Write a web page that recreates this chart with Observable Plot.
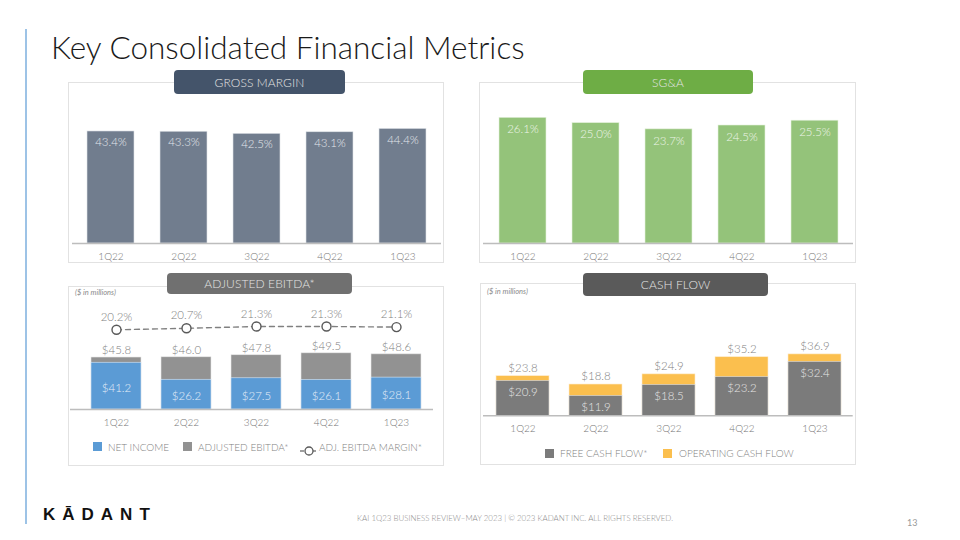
<!DOCTYPE html>
<html><head><meta charset="utf-8">
<script src="https://cdn.jsdelivr.net/npm/d3@7"></script>
<script src="https://cdn.jsdelivr.net/npm/@observablehq/plot@0.6"></script>
<style>
body{margin:0;background:#fff;}
#slide{position:relative;width:960px;height:540px;overflow:hidden;font-family:Lato,"Open Sans",sans-serif;background:#fff;}
.box{position:absolute;border:1px solid #e2e2e2;box-sizing:border-box;}
.pill{position:absolute;border-radius:4px;color:#e4e4e4;font-size:12px;font-weight:300;display:flex;align-items:center;justify-content:center;box-sizing:border-box;letter-spacing:0.1px;}
.note{position:absolute;font-size:7.5px;font-style:italic;color:#8a8a8a;}
.leg{position:absolute;font-size:10px;font-weight:300;color:#7f7f7f;line-height:12px;white-space:nowrap;}
.sw{position:absolute;width:9px;height:9px;}
</style></head><body><div id="slide"></div>
<script>
// ---- data ----
const quarters = ["1Q22","2Q22","3Q22","4Q22","1Q23"];
const grossMargin = [43.4,43.3,42.5,43.1,44.4];
const sga = [26.1,25.0,23.7,24.5,25.5];
const netIncome = [41.2,26.2,27.5,26.1,28.1];
const adjEbitda = [45.8,46.0,47.8,49.5,48.6];
const ebitdaMargin = [20.2,20.7,21.3,21.3,21.1];
const freeCashFlow = [20.9,11.9,18.5,23.2,32.4];
const operatingCashFlow = [23.8,18.8,24.9,35.2,36.9];
const ebitdaSeries = ["NET INCOME","ADJUSTED EBITDA*","ADJ. EBITDA MARGIN*"];
const cashSeries = ["FREE CASH FLOW*","OPERATING CASH FLOW"];

const slide = document.getElementById("slide");
function el(tag, cls, css, text){
  const e = document.createElement(tag);
  if (cls) e.className = cls;
  Object.assign(e.style, css||{});
  if (text!=null) e.textContent = text;
  slide.appendChild(e);
  return e;
}
function place(node, left, top){
  node.style.position="absolute"; node.style.left=left+"px"; node.style.top=top+"px";
  node.style.overflow="visible";
  slide.appendChild(node); return node;
}
const baseStyle = {fontFamily:"Lato, 'Open Sans', sans-serif", fontSize:"10px", fontWeight:300, color:"#767676", background:"transparent", overflow:"visible"};

// ---- frame ----
el("div",null,{position:"absolute",left:"25px",top:"29px",width:"1.5px",height:"495px",background:"#9dc3e6"});
el("div",null,{position:"absolute",left:"51px",top:"27px",fontSize:"31.5px",fontWeight:"300",color:"#1a1a1a",whiteSpace:"nowrap",lineHeight:"40px"},"Key Consolidated Financial Metrics");

// panel boxes
el("div","box",{left:"68px",top:"82px",width:"376px",height:"181px"});
el("div","box",{left:"479px",top:"82px",width:"377px",height:"181px"});
el("div","box",{left:"68px",top:"286px",width:"376px",height:"180px"});
el("div","box",{left:"480px",top:"283px",width:"376px",height:"182px"});

// pills
el("div","pill",{left:"174px",top:"70px",width:"171px",height:"24px",background:"#44546a"},"GROSS MARGIN");
el("div","pill",{left:"583px",top:"70px",width:"170px",height:"24px",background:"#6ead45"},"SG&A");
el("div","pill",{left:"167px",top:"273px",width:"185px",height:"21px",background:"#707070"},"ADJUSTED EBITDA*");
el("div","pill",{left:"583px",top:"273px",width:"185px",height:"23px",background:"#5a5a5a"},"CASH FLOW");

el("div","note",{left:"75px",top:"288px"},"($ in millions)");
el("div","note",{left:"487px",top:"287px"},"($ in millions)");

// ---- panel 1: gross margin ----
const gm = quarters.map((q,i)=>({q, v:grossMargin[i]}));
place(Plot.plot({
  width:376, height:168, marginLeft:4, marginRight:3, marginTop:0, marginBottom:20,
  style:baseStyle,
  x:{domain:quarters, range:[71.7-68, 440.7-68], paddingInner:0.363, paddingOuter:0.1815, label:null},
  y:{domain:[0,50], range:[148, 148-50*2.581], axis:null},
  marks:[
    Plot.barY(gm,{x:"q", y:"v", fill:"#717d8e", stroke:"#dfe3e8", strokeWidth:0.6}),
    Plot.ruleY([0],{stroke:"#bdbdbd", strokeWidth:1.5}),
    Plot.text(gm,{x:"q", y:"v", text:d=>d.v.toFixed(1)+"%", dy:11, fill:"#e3e7ec", fontSize:11.5}),
    Plot.axisX({tickSize:0, tickPadding:9, fontSize:10, fill:"#767676", label:null})
  ]
}), 68, 95);

// ---- panel 2: SG&A ----
const sg = quarters.map((q,i)=>({q, v:sga[i]}));
place(Plot.plot({
  width:377, height:168, marginLeft:4, marginRight:3, marginTop:0, marginBottom:20,
  style:baseStyle,
  x:{domain:quarters, range:[483.6-479, 852.7-479], paddingInner:0.363, paddingOuter:0.1815, label:null},
  y:{domain:[0,30], range:[148, 148-30*4.816], axis:null},
  marks:[
    Plot.barY(sg,{x:"q", y:"v", fill:"#94c37a", stroke:"#e4f0dc", strokeWidth:0.6}),
    Plot.ruleY([0],{stroke:"#bdbdbd", strokeWidth:1.5}),
    Plot.text(sg,{x:"q", y:"v", text:d=>d.v.toFixed(1)+"%", dy:11.5, fill:"#eef5e9", fontSize:11.5}),
    Plot.axisX({tickSize:0, tickPadding:9, fontSize:10, fill:"#767676", label:null})
  ]
}), 479, 95);

// ---- panel 3: adjusted EBITDA ----
const eb = quarters.map((q,i)=>({q, ni:netIncome[i], e:adjEbitda[i], m:ebitdaMargin[i]}));
const ebX = {domain:quarters, range:[79.35-68, 433.2-68], paddingInner:0.279, paddingOuter:0.1395, label:null};
place(Plot.plot({
  width:376, height:136, marginLeft:2, marginRight:11, marginTop:0, marginBottom:27,
  style:baseStyle,
  x:ebX,
  y:{domain:[0,50], range:[109, 109-50*1.135], axis:null},
  marks:[
    Plot.barY(eb,{x:"q", y:"e", fill:"#929292", stroke:"#e6e6e6", strokeWidth:0.6}),
    Plot.barY(eb,{x:"q", y:"ni", fill:"#5b9bd5", stroke:"#dbe8f5", strokeWidth:0.6}),
    Plot.ruleY([0],{stroke:"#bdbdbd", strokeWidth:1.5}),
    Plot.text(eb,{x:"q", y:"e", text:d=>"$"+d.e.toFixed(1), dy:-7, fill:"#7f7f7f", fontSize:11.5}),
    Plot.text(eb,{x:"q", y:d=>d.ni/2, text:d=>"$"+d.ni.toFixed(1), dy:2, fill:"#e6eef8", fontSize:11.5}),
    Plot.axisX({tickSize:0, tickPadding:9.5, fontSize:10, fill:"#767676", label:null})
  ]
}), 68, 300);
// margin line overlay (own scale)
const ebLine = place(Plot.plot({
  width:376, height:136, marginLeft:2, marginRight:11, marginTop:0, marginBottom:27,
  style:baseStyle,
  x:{...ebX, axis:null},
  y:{domain:[20.2,21.3], range:[29.3,26], axis:null},
  marks:[
    Plot.line(eb,{x:"q", y:"m", stroke:"#808080", strokeWidth:1.4, strokeDasharray:"5,4"}),
    Plot.dot(eb,{x:"q", y:"m", r:4.5, fill:"#fff", stroke:"#595959", strokeWidth:1.4}),
    Plot.text(eb,{x:"q", y:"m", text:d=>d.m.toFixed(1)+"%", dy:-12.5, fill:"#7f7f7f", fontSize:11.5})
  ]
}), 68, 300);
ebLine.style.pointerEvents="none";

// legend 3
el("div","sw",{left:"93px",top:"442px",background:"#5b9bd5"});
el("div","leg",{left:"108px",top:"441px"},ebitdaSeries[0]);
el("div","sw",{left:"183px",top:"442px",background:"#929292"});
el("div","leg",{left:"198px",top:"441px"},ebitdaSeries[1]);
const ic = el("div",null,{position:"absolute",left:"299px",top:"441px",width:"20px",height:"12px"});
ic.innerHTML = '<svg width="20" height="12"><line x1="1" y1="6" x2="19" y2="6" stroke="#808080" stroke-width="1.3" stroke-dasharray="4,2"/><circle cx="10" cy="6" r="4" fill="#fff" stroke="#595959" stroke-width="1.3"/></svg>';
el("div","leg",{left:"319px",top:"441px"},ebitdaSeries[2]);

// ---- panel 4: cash flow ----
const cf = quarters.map((q,i)=>({q, f:freeCashFlow[i], o:operatingCashFlow[i]}));
place(Plot.plot({
  width:376, height:136, marginLeft:3, marginRight:3.3, marginTop:0, marginBottom:20.7,
  style:baseStyle,
  x:{domain:quarters, range:[483.8-480, 852.9-480], paddingInner:0.278, paddingOuter:0.139, label:null},
  y:{domain:[0,40], range:[115.3, 115.3-40*1.664], axis:null},
  marks:[
    Plot.barY(cf,{x:"q", y:"o", fill:"#fbbf4e", stroke:"#fdeccc", strokeWidth:0.6}),
    Plot.barY(cf,{x:"q", y:"f", fill:"#7b7b7b", stroke:"#e0e0e0", strokeWidth:0.6}),
    Plot.ruleY([0],{stroke:"#bdbdbd", strokeWidth:1.5}),
    Plot.text(cf,{x:"q", y:"o", text:d=>"$"+d.o.toFixed(1), dy:-8, fill:"#7f7f7f", fontSize:11.5}),
    Plot.text(cf,{x:"q", y:"f", text:d=>"$"+d.f.toFixed(1), dy:11.5, fill:"#e6e6e6", fontSize:11.5}),
    Plot.axisX({tickSize:0, tickPadding:9, fontSize:10, fill:"#767676", label:null})
  ]
}), 480, 300);

// legend 4
el("div","sw",{left:"545px",top:"448.5px",background:"#7b7b7b"});
el("div","leg",{left:"560px",top:"447px"},cashSeries[0]);
el("div","sw",{left:"663px",top:"448.5px",background:"#fbbf4e"});
el("div","leg",{left:"679px",top:"447px"},cashSeries[1]);

// ---- footer ----
el("div",null,{position:"absolute",left:"43px",top:"505px",fontFamily:"'Liberation Sans',Arial,sans-serif",fontWeight:"700",fontSize:"17px",letterSpacing:"7px",color:"#111",lineHeight:"20px",whiteSpace:"nowrap"},"KĀDANT");
el("div",null,{position:"absolute",left:"357px",top:"513px",fontSize:"7.9px",fontWeight:"300",color:"#8c8c8c",whiteSpace:"nowrap",lineHeight:"10px"},"KAI 1Q23 BUSINESS REVIEW–MAY 2023 | © 2023 KADANT INC. ALL RIGHTS RESERVED.");
el("div",null,{position:"absolute",left:"907px",top:"517px",fontSize:"9px",color:"#9a9a9a",lineHeight:"12px"},"13");
</script></body></html>
